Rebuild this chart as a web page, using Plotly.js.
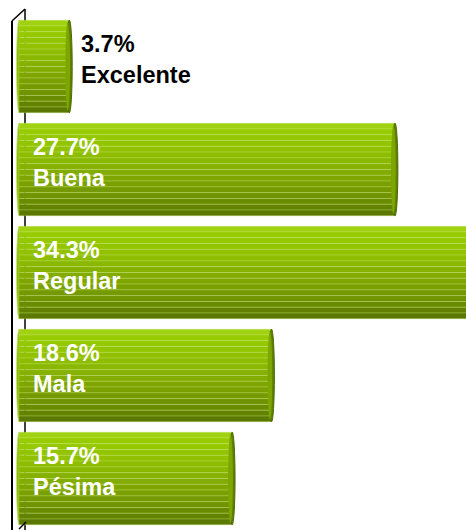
<!DOCTYPE html>
<html>
<head>
<meta charset="utf-8">
<script src="https://cdn.plot.ly/plotly-3.0.1.min.js"></script>
<style>html,body{margin:0;padding:0;background:#fff;}#chart{width:466px;height:530px;}</style>
</head>
<body>
<div id="chart"></div>
<script>
const categories = ['Excelente', 'Buena', 'Regular', 'Mala', 'Pésima'];
const values = [3.7, 27.7, 34.3, 18.6, 15.7];
const valueLabels = ['3.7%', '27.7%', '34.3%', '18.6%', '15.7%'];

// style helpers
const N = 16;
const stops = [[0, [166, 214, 30]], [0.08, [153, 204, 0]], [0.3, [144, 192, 0]], [0.55, [130, 170, 0]], [0.8, [110, 145, 0]], [1, [88, 116, 0]]];
function gradColor(t) {
  for (let i = 1; i < stops.length; i++) {
    if (t <= stops[i][0]) {
      const a = stops[i - 1], b = stops[i];
      const f = (t - a[0]) / (b[0] - a[0]);
      const c = a[1].map((v, j) => Math.round(v + (b[1][j] - v) * f));
      return 'rgb(' + c.join(',') + ')';
    }
  }
  return 'rgb(88,116,0)';
}
const BW = 0.9;
const traces = [];
for (let k = 0; k < N; k++) {
  traces.push({
    type: 'bar', orientation: 'h',
    y: categories, x: values,
    width: BW / N, offset: -BW / 2 + k * BW / N,
    marker: {color: gradColor((k + 0.5) / N), line: {color: 'rgba(200,232,120,0.55)', width: 0.6}},
    hoverinfo: 'skip', showlegend: false
  });
}

// plot geometry (pixels) for paper-space decorations
const W = 466, H = 530, ML = 12, MT = 15;
const PW = W - ML, PH = H - MT;
const px = p => (p - ML) / PW;
const py = p => 1 - (p - MT) / PH;

const shapes = [];
shapes.push({type: 'line', xref: 'paper', yref: 'paper', x0: px(25), x1: px(25), y0: py(9), y1: py(530), line: {color: '#000', width: 1.5}, layer: 'below'});
shapes.push({type: 'line', xref: 'paper', yref: 'paper', x0: px(12), x1: px(12), y0: py(21), y1: py(530), line: {color: '#000', width: 2}, layer: 'above'});
shapes.push({type: 'line', xref: 'paper', yref: 'paper', x0: px(12), x1: px(25), y0: py(21), y1: py(9), line: {color: '#000', width: 1.5}, layer: 'above'});
shapes.push({type: 'line', xref: 'paper', yref: 'paper', x0: px(19), x1: px(26), y0: py(529), y1: py(522), line: {color: '#000', width: 1.5}, layer: 'above'});

// cylinder end caps
values.forEach((v, i) => {
  shapes.push({type: 'circle', xref: 'x', yref: 'y', x0: v - 0.2, x1: v + 0.22, y0: i - BW / 2, y1: i + BW / 2,
    fillcolor: '#5e8200', line: {color: '#4c6a00', width: 1}, layer: 'above'});
  shapes.push({type: 'circle', xref: 'x', yref: 'y', x0: v - 0.28, x1: v + 0.06, y0: i - BW / 2 + 0.02, y1: i + BW / 2 - 0.02,
    fillcolor: '#7ea600', line: {width: 0}, layer: 'above'});
  shapes.push({type: 'circle', xref: 'x', yref: 'y', x0: -0.18, x1: 0.18, y0: i - BW / 2, y1: i + BW / 2,
    fillcolor: '#8cba00', line: {color: 'rgba(190,225,110,0.8)', width: 1}, layer: 'below'});
});

const annotations = values.map((v, i) => {
  const inside = v >= 10;
  return {
    x: inside ? 0 : v, y: categories[i], xref: 'x', yref: 'y',
    text: valueLabels[i] + '<br>' + categories[i],
    showarrow: false, xanchor: 'left', align: 'left',
    xshift: inside ? 12 : 10, yshift: 7,
    font: {family: 'Liberation Sans, Arial, sans-serif', size: 23.5, weight: 'bold', color: inside ? '#ffffff' : '#000000'}
  };
});

const layout = {
  width: W, height: H,
  margin: {l: ML, r: 0, t: MT, b: 0, pad: 0},
  paper_bgcolor: '#ffffff', plot_bgcolor: 'rgba(0,0,0,0)',
  barmode: 'overlay', showlegend: false, hovermode: false,
  xaxis: {range: [-0.516, 32.94], showgrid: false, zeroline: false, showticklabels: false, showline: false, ticks: ''},
  yaxis: {type: 'category', categoryorder: 'array', categoryarray: categories, range: [4.5, -0.5], showgrid: false, zeroline: false, showticklabels: false, showline: false, ticks: ''},
  shapes: shapes, annotations: annotations
};

Plotly.newPlot('chart', traces, layout, {displayModeBar: false, staticPlot: true});
</script>
</body>
</html>
